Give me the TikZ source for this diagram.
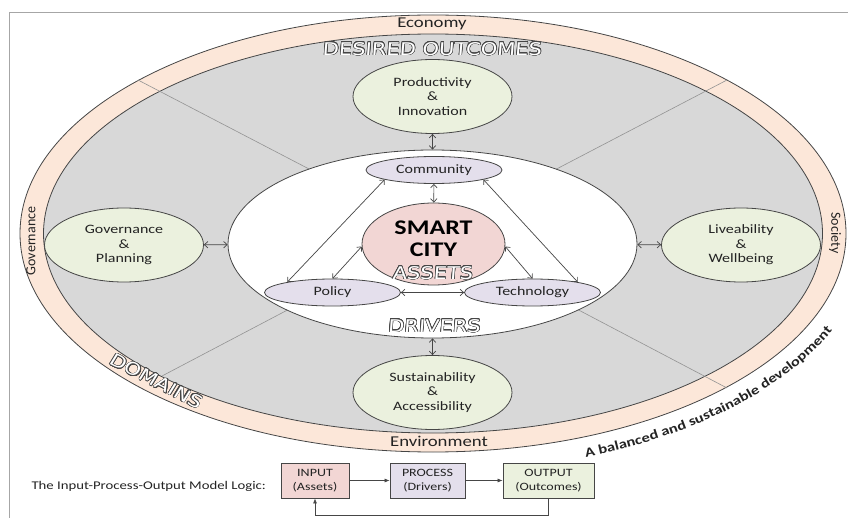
\documentclass[tikz,border=0pt]{standalone}
\usepackage{fontspec}
\setmainfont{Carlito}[FakeStretch=1.25]
\newfontfamily\uprightfont{Carlito}
\newfontfamily\hollowfamily{DejaVu Sans}[FakeStretch=1.2,FakeSlant=0.08]
\usepackage[copies]{contour}
\contourlength{0.55pt}
\contournumber{20}
\usetikzlibrary{shapes.geometric,arrows.meta,decorations.text}
\definecolor{ringcol}{RGB}{252,231,217}
\definecolor{greycol}{RGB}{216,216,216}
\definecolor{greencol}{RGB}{235,241,222}
\definecolor{purplecol}{RGB}{228,223,236}
\definecolor{pinkcol}{RGB}{242,214,212}
\definecolor{edgecol}{RGB}{70,70,70}
\definecolor{txtcol}{RGB}{35,35,35}
\newcommand{\hollowtxt}[1]{\textcolor{white}{\contour{edgecol}{#1}}}
\begin{document}
\begin{tikzpicture}[x=1pt,y=-1pt,>={Straight Barb[length=3.5pt,width=6.5pt]},
  text=txtcol,font={\fontsize{12.8}{14.5}\selectfont},
  rim/.style={draw=edgecol,line width=0.8pt},
  outcome/.style={ellipse,rim,fill=greencol,minimum width=159pt,minimum height=74pt,inner sep=0pt,align=center},
  asset/.style={ellipse,rim,fill=purplecol,minimum width=136pt,minimum height=27pt,inner sep=0pt},
  ipo/.style={rim,minimum width=68pt,minimum height=35pt,inner sep=0pt,align=center,font={\fontsize{11.2}{14.5}\selectfont}},
  ringtxt/.style={font={\fontsize{15}{16}\selectfont}},
  sidetxt/.style={font={\uprightfont\fontsize{14}{16}\selectfont}},
  hollow/.style={font={\hollowfamily\fontsize{17.5}{18}\selectfont}},
  link/.style={<->,draw=edgecol,line width=0.7pt},
  divider/.style={draw=gray!85,line width=0.6pt}]
\useasboundingbox (0,0) rectangle (848,518);
\draw[gray!70,line width=0.8pt] (9,518) |- (848,12);
% domains ring
\coordinate (ctr) at (433,233.5);
\draw[rim,fill=ringcol] (ctr) ellipse[x radius=413,y radius=218.5];
\draw[rim,fill=greycol] (ctr) ellipse[x radius=389.5,y radius=199.5];
\foreach \p in {(138,80),(727,80),(727,388),(162,376)}
  \draw[divider] (ctr) -- \p;
\node[ringtxt] (econlbl) at (432,24) {Economy};
\node[ringtxt] (envlbl) at (439,441) {Environment};
\node[sidetxt,rotate=90] (govlbl) at (31,241) {Governance};
\node[sidetxt,rotate=-90] (soclbl) at (835,233) {Society};
\node[hollow] (outlbl) at (432,49) {\hollowtxt{DESIRED OUTCOMES}};
\node[hollow,rotate=-27] (domlbl) at (156,381) {\hollowtxt{DOMAINS}};
\path[decorate,decoration={text along path,text align=center,
  text={|\fontsize{13.2}{16}\selectfont\bfseries\color{txtcol}|A balanced and sustainable development}}]
  ([shift={(77:437 and 239)}]ctr) arc[start angle=77,end angle=12,x radius=437,y radius=239];
% drivers and assets
\node[ellipse,rim,fill=white,minimum width=409pt,minimum height=188pt] (drivers) at (432.5,244) {};
\node[asset] (comm) at (434,170) {Community};
\node[asset] (pol) at (332.5,292.5) {Policy};
\node[asset] (tech) at (532.5,292.5) {Technology};
\node[ellipse,rim,fill=pinkcol,minimum width=143pt,minimum height=82pt] (city) at (433.5,244) {};
\node[font={\fontsize{20.8}{22.5}\selectfont\bfseries},align=center,text=black] (citytxt) at (433.5,239) {SMART\\CITY};
\node[hollow] (assetlbl) at (432.5,273) {\hollowtxt{ASSETS}};
\node[hollow] (drvlbl) at (434,326) {\hollowtxt{DRIVERS}};
% outcomes
\node[outcome] (prod) at (432.5,96.5) {Productivity\\\&\\Innovation};
\node[outcome] (govp) at (124,245) {Governance\\\&\\Planning};
\node[outcome] (live) at (741,245) {Liveability\\\&\\Wellbeing};
\node[outcome] (sust) at (432.5,392.5) {Sustainability\\\&\\Accessibility};
\draw[link] (prod) -- (drivers);
\draw[link] (govp) -- (drivers);
\draw[link] (live) -- (drivers);
\draw[link] (drivers) -- (sust);
\draw[link] (comm) -- (city);
\draw[link] (comm.191) -- (pol.167);
\draw[link] (comm.349) -- (tech.13);
\draw[link] (city.182) -- (pol.north);
\draw[link] (city.-2) -- (tech.north);
\draw[link] (pol) -- (tech);
% model logic
\node[anchor=west,font={\fontsize{11.8}{14}\selectfont}] (ipolbl) at (28,486) {The Input-Process-Output Model Logic:};
\node[ipo,fill=pinkcol] (inp) at (315,480.5) {INPUT\\(Assets)};
\node[ipo,fill=purplecol,minimum width=75pt] (proc) at (427.5,480.5) {PROCESS\\(Drivers)};
\node[ipo,fill=greencol,minimum width=91pt] (outp) at (548.5,480.5) {OUTPUT\\(Outcomes)};
\draw[-{Latex[length=5pt,width=4pt]},edgecol,line width=0.7pt] (inp) -- (proc);
\draw[-{Latex[length=5pt,width=4pt]},edgecol,line width=0.7pt] (proc) -- (outp);
\draw[-{Latex[length=5pt,width=4pt]},edgecol,line width=0.7pt] (outp.south) -- ++(0,17) -| (inp.south);
\end{tikzpicture}
\end{document}
